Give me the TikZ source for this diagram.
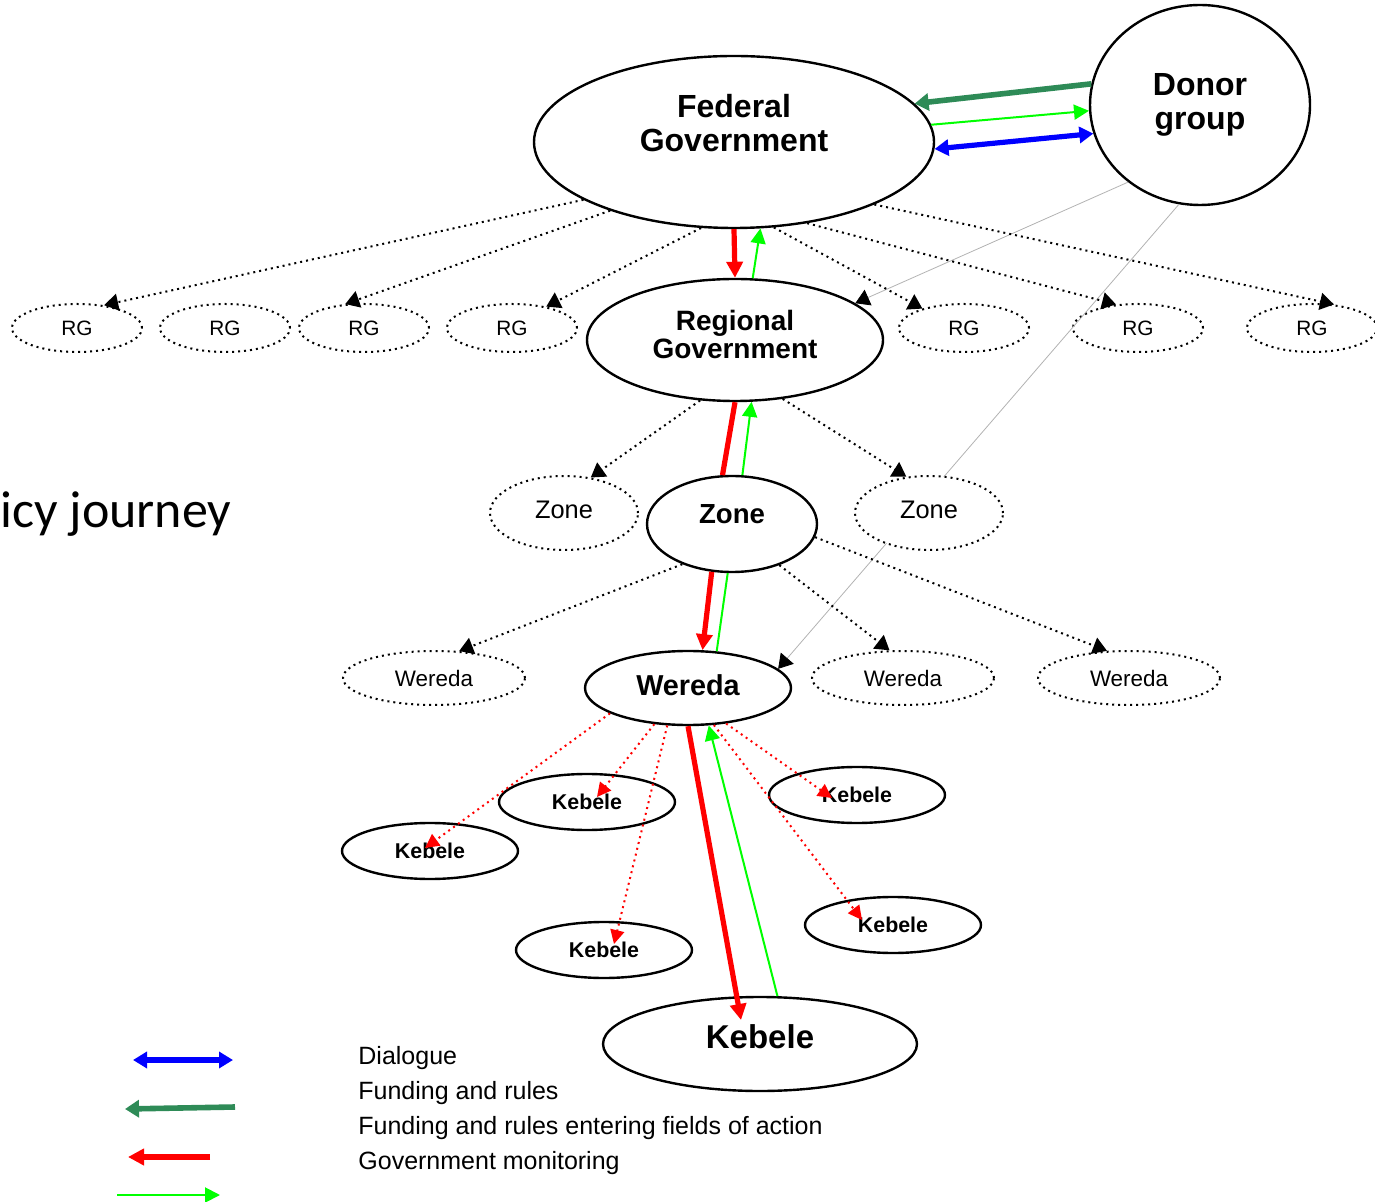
\documentclass[tikz,border=0pt]{standalone}
\usepackage{fontspec}
\setmainfont{Liberation Sans}
\newfontfamily\carlito{Carlito}
\usepackage{tikz}
\usetikzlibrary{arrows.meta, positioning, shapes.geometric, calc}
\definecolor{fundgreen}{RGB}{46,139,87}

\begin{document}
\begin{tikzpicture}[
      x=0.5pt, y=-0.5pt,
      gov/.style={ellipse, draw, line width=1.2pt, inner sep=0pt, align=center},
      dotgov/.style={ellipse, draw, dotted, line width=1pt, inner sep=0pt, align=center},
      kebele/.style={gov, minimum width=88pt, minimum height=28pt,
                     font=\fontsize{10.7}{12}\selectfont\bfseries},
      rg/.style={dotgov, minimum width=65pt, minimum height=24pt,
                 font=\fontsize{10.4}{12}\selectfont},
      dotzone/.style={dotgov, fill=white, minimum width=74pt, minimum height=37pt, text depth=3pt,
                      font=\fontsize{12.7}{14}\selectfont},
      dotwereda/.style={dotgov, minimum width=91pt, minimum height=27pt,
                        font=\fontsize{11.2}{13}\selectfont},
      tierarrow/.style={dotted, line width=1pt, -{Triangle[length=7pt, width=8.5pt]}},
      donorarrow/.style={draw=gray!60, line width=0.4pt, -{Triangle[length=7pt, width=8.5pt, color=black]}},
      reacharrow/.style={draw=red, dotted, line width=1pt, -{Triangle[length=7pt, width=7pt]}},
      monarrow/.style={draw=red, line width=2.6pt, -{Triangle[length=8pt, width=8pt]}},
      fieldarrow/.style={draw=green, line width=1pt, -{Triangle[length=7.5pt, width=7.5pt]}},
      fundarrow/.style={draw=fundgreen, line width=2.8pt, -{Triangle[length=7pt, width=8.5pt]}},
      dialogarrow/.style={draw=blue, line width=2.6pt, {Triangle[length=7pt, width=8pt]}-{Triangle[length=7pt, width=8pt]}},
      legtext/.style={anchor=base west, inner sep=0pt, font=\fontsize{12.5}{15}\selectfont}
    ]
    \useasboundingbox (0,0) rectangle (1375,1202);

    \node[anchor=base west, inner sep=0pt, font=\carlito\fontsize{26}{30}\selectfont] (journey) at (0,528) {icy journey};

    \node[gov, minimum width=200pt, minimum height=86pt, text depth=19pt,
          font=\fontsize{16}{17}\selectfont\bfseries] (fed) at (734,142) {Federal\\Government};
    \node[gov, minimum width=110pt, minimum height=100pt,
          font=\fontsize{16}{17}\selectfont\bfseries] (donor) at (1200,105) {Donor\\group};
    \node[gov, minimum width=148pt, minimum height=61pt, text depth=6pt,
          font=\fontsize{14}{14}\selectfont\bfseries] (reg) at (735,340) {Regional\\Government};
    \node[gov, minimum width=85pt, minimum height=48pt, text depth=10pt,
          font=\fontsize{13.8}{14}\selectfont\bfseries] (zone) at (732,524) {Zone};
    \node[gov, minimum width=103pt, minimum height=37pt, text depth=3pt,
          font=\fontsize{14.4}{15}\selectfont\bfseries] (wereda) at (688,688) {Wereda};
    \node[gov, minimum width=157pt, minimum height=47pt, text depth=7pt,
          font=\fontsize{16.5}{17}\selectfont\bfseries] (bigkeb) at (760,1044) {Kebele};

    \node[rg] (rg1) at (77,328) {RG};
    \node[rg] (rg2) at (225,328) {RG};
    \node[rg] (rg3) at (364,328) {RG};
    \node[rg] (rg4) at (512,328) {RG};
    \node[rg] (rg5) at (964,328) {RG};
    \node[rg] (rg6) at (1138,328) {RG};
    \node[rg] (rg7) at (1312,328) {RG};

    \draw[donorarrow] (donor.227) -- (reg.17);
    \draw[donorarrow] (donor.258) -- (wereda.12);

    \node[dotzone] (zl) at (564,513) {Zone};
    \node[dotzone] (zr) at (929,513) {Zone};

    \node[dotwereda] (wl) at (434,678) {Wereda};
    \node[dotwereda] (wm) at (903,678) {Wereda};
    \node[dotwereda] (wr) at (1129,678) {Wereda};

    \node[kebele] (keb1) at (587,802) {Kebele};
    \node[kebele] (keb2) at (430,851) {Kebele};
    \node[kebele] (keb3) at (857,795) {Kebele};
    \node[kebele] (keb4) at (604,950) {Kebele};
    \node[kebele] (keb5) at (893,925) {Kebele};

    \draw[tierarrow] (fed.201) -- (rg1.40);
    \draw[tierarrow] (fed.209) -- (rg3.128);
    \draw[tierarrow] (fed.249) -- (rg4.32);
    \draw[tierarrow] (fed.295) -- (rg5.155);
    \draw[tierarrow] (fed.312) -- (rg6.133);
    \draw[tierarrow] (fed.336) -- (rg7.47);
    \draw[tierarrow] (reg.240) -- (zl.53);
    \draw[tierarrow] (reg.309) -- (zr.122);
    \draw[tierarrow] (zone.219) -- (wl.47);
    \draw[tierarrow] (zone.319) -- (wm.116);
    \draw[tierarrow] (zone.351) -- (wr.129);

    \draw[fundarrow] (donor.169) -- (fed.12);
    \draw[fieldarrow] (fed.5) -- (donor.183);
    \draw[dialogarrow] (fed.358) -- (donor.195);

    \draw[monarrow] (fed.270) -- (reg.90);
    \draw[fieldarrow] (reg.74) -- (fed.287);
    \draw[monarrow, -] (reg.270) -- (zone.101);
    \draw[fieldarrow] (zone.78) -- (reg.285);
    \draw[monarrow] (zone.247) -- (wereda.69);
    \draw[fieldarrow, -] (wereda.52) -- (zone.265);
    \draw[monarrow] (wereda.270) -- ($(bigkeb.center)+(-19,-24)$);
    \draw[fieldarrow] (bigkeb.70) -- (wereda.299);

    \draw[reacharrow] (wereda.198) -- ($(keb2.center)+(-5,-3)$);
    \draw[reacharrow] (wereda.227) -- ($(keb1.center)+(10,-5)$);
    \draw[reacharrow] (wereda.241) -- ($(keb4.center)+(10,-6)$);
    \draw[reacharrow] (wereda.317) -- ($(keb3.center)+(-25,3)$);
    \draw[reacharrow] (wereda.305) -- ($(keb5.center)+(-31,-5)$);

    \coordinate (dlgA) at (133,1060);
    \coordinate (dlgB) at (233,1060);
    \coordinate (fundA) at (235,1107);
    \coordinate (fundB) at (125,1109);
    \coordinate (monA) at (210,1157);
    \coordinate (monB) at (128,1157);
    \coordinate (fldA) at (117,1195);
    \coordinate (fldB) at (220,1195);
    \draw[dialogarrow] (dlgA) -- (dlgB);
    \draw[fundarrow] (fundA) -- (fundB);
    \draw[monarrow] (monA) -- (monB);
    \draw[fieldarrow] (fldA) -- (fldB);

    \node[legtext] (legdialog) at (358,1064) {Dialogue};
    \node[legtext] (legfund) at (358,1099) {Funding and rules};
    \node[legtext] (legfield) at (358,1134) {Funding and rules entering fields of action};
    \node[legtext] (legmon) at (358,1169) {Government monitoring};
\end{tikzpicture}
\end{document}
